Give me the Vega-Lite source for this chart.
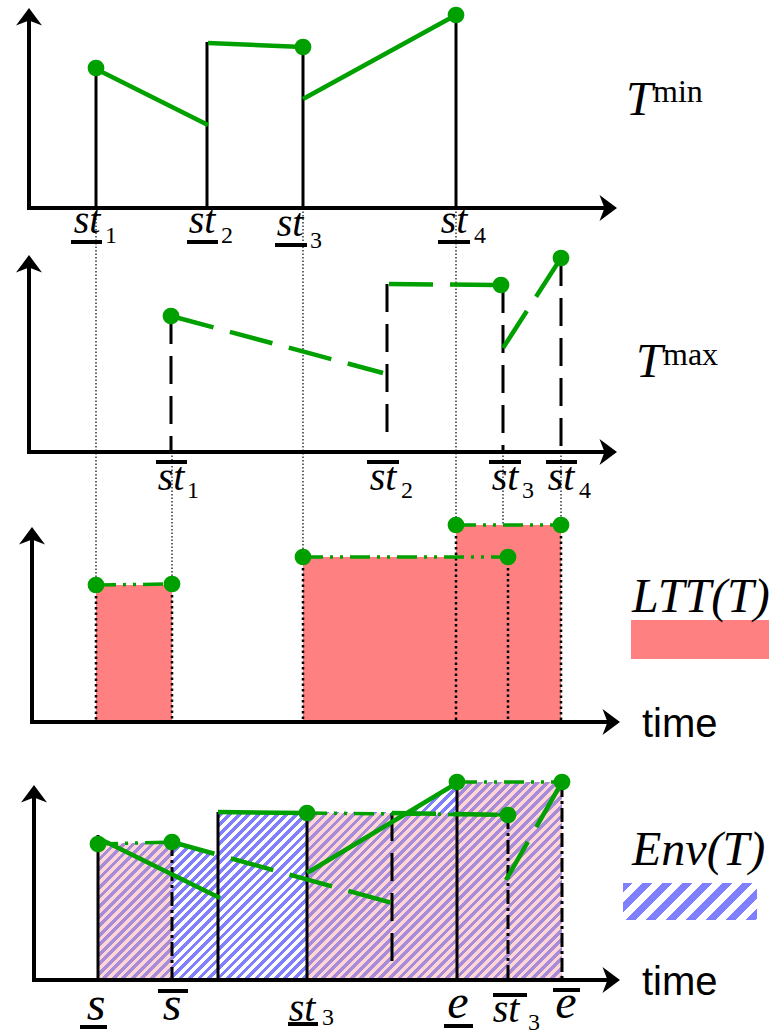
{
"$schema":"https://vega.github.io/schema/vega-lite/v6.json",
"width":776,"height":1036,
"autosize":{"type":"fit","contains":"padding"},
"padding":0,
"background":"#ffffff",
"config":{"view":{"stroke":null}},
"datasets":{
"ltt":[{"x":96,"x2":172,"y":585,"y2":722},{"x":303,"x2":508,"y":557,"y2":722},{"x":456,"x2":561,"y":525,"y2":722},{"x":631,"x2":769,"y":620,"y2":659}],
"envBlue":[{"x":98,"y":844},{"x":172,"y":842},{"x":218,"y":855},{"x":218.3,"y":812},{"x":409,"y":812},{"x":457,"y":782},{"x":562,"y":782}],
"envPink":[{"x":98,"y":844},{"x":172,"y":842},{"x":172.3,"y":980},{"x":306.7,"y":980},{"x":307,"y":813},{"x":456.7,"y":813},{"x":457,"y":782},{"x":562,"y":782}],
"legendHatch":[{"x":623,"x2":757,"y":883,"y2":920}],
"segs":[
{"k":"bs","x":96,"y":208,"x2":96,"y2":68},{"k":"bs","x":207,"y":208,"x2":207,"y2":42},{"k":"bs","x":303,"y":208,"x2":303,"y2":47},{"k":"bs","x":456,"y":208,"x2":456,"y2":15},
{"k":"bs","x":98,"y":980,"x2":98,"y2":835},{"k":"bs","x":218,"y":980,"x2":218,"y2":812},{"k":"bs","x":307,"y":980,"x2":307,"y2":813},{"k":"bs","x":457,"y":980,"x2":457,"y2":783},
{"k":"bd","x":171,"y":316,"x2":171,"y2":452},{"k":"bd","x":387,"y":284,"x2":387,"y2":440},{"k":"bd","x":503,"y":285,"x2":503,"y2":452},{"k":"bd","x":561,"y":258,"x2":561,"y2":452},{"k":"bd","x":392,"y":813,"x2":392,"y2":970},
{"k":"bdd","x":172,"y":842,"x2":172,"y2":980},{"k":"bdd","x":508,"y":815,"x2":508,"y2":980},{"k":"bdd","x":562,"y":783,"x2":562,"y2":980},
{"k":"thin","x":96,"y":208,"x2":96,"y2":585},{"k":"thin","x":303,"y":208,"x2":303,"y2":557},{"k":"thin","x":456,"y":208,"x2":456,"y2":525},{"k":"thin","x":172,"y":452,"x2":172,"y2":584},{"k":"thin","x":503,"y":452,"x2":503,"y2":525},{"k":"thin","x":561,"y":452,"x2":561,"y2":525},
{"k":"edge","x":96,"y":585,"x2":96,"y2":722},{"k":"edge","x":172,"y":584,"x2":172,"y2":722},{"k":"edge","x":303,"y":557,"x2":303,"y2":722},{"k":"edge","x":456,"y":525,"x2":456,"y2":722},{"k":"edge","x":508,"y":557,"x2":508,"y2":722},{"k":"edge","x":561,"y":525,"x2":561,"y2":722},
{"k":"ax","x":29,"y":210,"x2":29,"y2":20},{"k":"ax","x":27,"y":208,"x2":606,"y2":208},{"k":"ax","x":29,"y":454,"x2":29,"y2":267},{"k":"ax","x":27,"y":452,"x2":606,"y2":452},{"k":"ax","x":32,"y":724,"x2":32,"y2":539},{"k":"ax","x":30,"y":722,"x2":609,"y2":722},{"k":"ax","x":34,"y":982,"x2":34,"y2":797},{"k":"ax","x":32,"y":980,"x2":609,"y2":980},
{"k":"bar","x":71,"y":242,"x2":102,"y2":242},{"k":"bar","x":187,"y":242,"x2":218,"y2":242},{"k":"bar","x":275,"y":245,"x2":307,"y2":245},{"k":"bar","x":438,"y":242,"x2":470,"y2":242},
{"k":"bar","x":156,"y":462,"x2":187,"y2":462},{"k":"bar","x":367,"y":462,"x2":399,"y2":462},{"k":"bar","x":489,"y":462,"x2":521,"y2":462},{"k":"bar","x":546,"y":462,"x2":577,"y2":462},
{"k":"bar","x":80,"y":1027,"x2":107,"y2":1027},{"k":"bar","x":158,"y":991,"x2":188,"y2":991},{"k":"bar","x":288,"y":1024,"x2":318,"y2":1024},{"k":"bar","x":444,"y":1026,"x2":473,"y2":1026},{"k":"bar","x":493,"y":995,"x2":527,"y2":995},{"k":"bar","x":553,"y":990,"x2":580,"y2":990},
{"k":"gs","x":96,"y":69,"x2":208,"y2":125},{"k":"gs","x":208,"y":43,"x2":303,"y2":47},{"k":"gs","x":303,"y":99,"x2":456,"y2":15},{"k":"gs","x":98,"y":838,"x2":220,"y2":898},{"k":"gs","x":218,"y":812,"x2":307,"y2":813},{"k":"gs","x":307,"y":873,"x2":457,"y2":783},
{"k":"gd","x":171,"y":316,"x2":383,"y2":373},{"k":"gd","x":389,"y":284,"x2":501,"y2":285},{"k":"gd","x":503,"y":348,"x2":561,"y2":258},{"k":"gd","x":172,"y":842,"x2":392,"y2":903},{"k":"gd","x":392,"y":813,"x2":506,"y2":815},{"k":"gd","x":506,"y":880,"x2":562,"y2":782},
{"k":"gdd","x":96,"y":585,"x2":172,"y2":584},{"k":"gdd","x":303,"y":557,"x2":508,"y2":557},{"k":"gdd","x":456,"y":525,"x2":561,"y2":525},{"k":"gdd","x":98,"y":844,"x2":172,"y2":842},{"k":"gdd","x":307,"y":813,"x2":508,"y2":815},{"k":"gdd","x":457,"y":782,"x2":562,"y2":782}
],
"dots":[{"x":96,"y":68},{"x":303,"y":47},{"x":456,"y":15},{"x":171,"y":316},{"x":501,"y":285},{"x":561,"y":258},{"x":96,"y":585},{"x":172,"y":584},{"x":303,"y":557},{"x":508,"y":557},{"x":456,"y":525},{"x":561,"y":525},{"x":98,"y":844},{"x":172,"y":842},{"x":307,"y":813},{"x":457,"y":782},{"x":508,"y":815},{"x":562,"y":782}],
"arrowUp":[{"x":29,"y":18},{"x":29,"y":265},{"x":32,"y":537},{"x":34,"y":795}],
"arrowRight":[{"x":607,"y":208},{"x":607,"y":452},{"x":610,"y":722},{"x":610,"y":980}],
"labels":[
{"r":"st","t":"st","x":87,"y":233},{"r":"st","t":"st","x":202,"y":233},{"r":"st","t":"st","x":290,"y":236},{"r":"st","t":"st","x":454,"y":233},
{"r":"st","t":"st","x":171,"y":490},{"r":"st","t":"st","x":383,"y":490},{"r":"st","t":"st","x":505,"y":490},{"r":"st","t":"st","x":561,"y":490},
{"r":"st","t":"st","x":302,"y":1021},{"r":"st","t":"st","x":506,"y":1022},
{"r":"sub","t":"1","x":111,"y":243},{"r":"sub","t":"2","x":227,"y":243},{"r":"sub","t":"3","x":316,"y":248},{"r":"sub","t":"4","x":480,"y":243},
{"r":"sub","t":"1","x":193,"y":498},{"r":"sub","t":"2","x":407,"y":498},{"r":"sub","t":"3","x":528,"y":498},{"r":"sub","t":"4","x":585,"y":498},
{"r":"sub","t":"3","x":328,"y":1025},{"r":"sub","t":"3","x":534,"y":1030},
{"r":"var","t":"s","x":96,"y":1020},{"r":"var","t":"s","x":172,"y":1020},{"r":"var","t":"e","x":458,"y":1018},{"r":"var","t":"e","x":566,"y":1018},
{"r":"title","t":"T","x":626,"y":115},{"r":"title","t":"T","x":636,"y":377},{"r":"title","t":"LTT(T)","x":632,"y":612},{"r":"title","t":"Env(T)","x":632,"y":865},
{"r":"sup","t":"min","x":653,"y":102},{"r":"sup","t":"max","x":663,"y":365},
{"r":"time","t":"time","x":642,"y":737},{"r":"time","t":"time","x":642,"y":995}
]
},
"encoding":{
"x":{"field":"x","type":"quantitative","scale":{"domain":[0,776],"nice":false,"zero":false},"axis":null},
"y":{"field":"y","type":"quantitative","scale":{"domain":[0,1036],"nice":false,"zero":false,"reverse":true},"axis":null}
},
"layer":[
{"data":{"name":"ltt"},"mark":{"type":"rect","fill":"#ff8080","opacity":1},"encoding":{"x2":{"field":"x2"},"y2":{"field":"y2"}}},
{"data":{"name":"envBlue"},"mark":{"type":"area","orient":"vertical","interpolate":"linear","opacity":1,"fill":{"gradient":"linear","x1":0,"y1":0,"x2":1.23976,"y2":0.52904,"stops":[
{"offset":0.007,"color":"#8080ff"},{"offset":0.007,"color":"#fff"},{"offset":0.014,"color":"#fff"},{"offset":0.014,"color":"#8080ff"},
{"offset":0.021,"color":"#8080ff"},{"offset":0.021,"color":"#fff"},{"offset":0.028,"color":"#fff"},{"offset":0.028,"color":"#8080ff"},
{"offset":0.035,"color":"#8080ff"},{"offset":0.035,"color":"#fff"},{"offset":0.042,"color":"#fff"},{"offset":0.042,"color":"#8080ff"},
{"offset":0.049,"color":"#8080ff"},{"offset":0.049,"color":"#fff"},{"offset":0.056,"color":"#fff"},{"offset":0.056,"color":"#8080ff"},
{"offset":0.063,"color":"#8080ff"},{"offset":0.063,"color":"#fff"},{"offset":0.07,"color":"#fff"},{"offset":0.07,"color":"#8080ff"},
{"offset":0.077,"color":"#8080ff"},{"offset":0.077,"color":"#fff"},{"offset":0.084,"color":"#fff"},{"offset":0.084,"color":"#8080ff"},
{"offset":0.091,"color":"#8080ff"},{"offset":0.091,"color":"#fff"},{"offset":0.098,"color":"#fff"},{"offset":0.098,"color":"#8080ff"},
{"offset":0.105,"color":"#8080ff"},{"offset":0.105,"color":"#fff"},{"offset":0.112,"color":"#fff"},{"offset":0.112,"color":"#8080ff"},
{"offset":0.119,"color":"#8080ff"},{"offset":0.119,"color":"#fff"},{"offset":0.126,"color":"#fff"},{"offset":0.126,"color":"#8080ff"},
{"offset":0.133,"color":"#8080ff"},{"offset":0.133,"color":"#fff"},{"offset":0.14,"color":"#fff"},{"offset":0.14,"color":"#8080ff"},
{"offset":0.147,"color":"#8080ff"},{"offset":0.147,"color":"#fff"},{"offset":0.154,"color":"#fff"},{"offset":0.154,"color":"#8080ff"},
{"offset":0.161,"color":"#8080ff"},{"offset":0.161,"color":"#fff"},{"offset":0.168,"color":"#fff"},{"offset":0.168,"color":"#8080ff"},
{"offset":0.175,"color":"#8080ff"},{"offset":0.175,"color":"#fff"},{"offset":0.182,"color":"#fff"},{"offset":0.182,"color":"#8080ff"},
{"offset":0.189,"color":"#8080ff"},{"offset":0.189,"color":"#fff"},{"offset":0.196,"color":"#fff"},{"offset":0.196,"color":"#8080ff"},
{"offset":0.203,"color":"#8080ff"},{"offset":0.203,"color":"#fff"},{"offset":0.21,"color":"#fff"},{"offset":0.21,"color":"#8080ff"},
{"offset":0.217,"color":"#8080ff"},{"offset":0.217,"color":"#fff"},{"offset":0.224,"color":"#fff"},{"offset":0.224,"color":"#8080ff"},
{"offset":0.231,"color":"#8080ff"},{"offset":0.231,"color":"#fff"},{"offset":0.238,"color":"#fff"},{"offset":0.238,"color":"#8080ff"},
{"offset":0.245,"color":"#8080ff"},{"offset":0.245,"color":"#fff"},{"offset":0.252,"color":"#fff"},{"offset":0.252,"color":"#8080ff"},
{"offset":0.259,"color":"#8080ff"},{"offset":0.259,"color":"#fff"},{"offset":0.266,"color":"#fff"},{"offset":0.266,"color":"#8080ff"},
{"offset":0.273,"color":"#8080ff"},{"offset":0.273,"color":"#fff"},{"offset":0.28,"color":"#fff"},{"offset":0.28,"color":"#8080ff"},
{"offset":0.287,"color":"#8080ff"},{"offset":0.287,"color":"#fff"},{"offset":0.294,"color":"#fff"},{"offset":0.294,"color":"#8080ff"},
{"offset":0.301,"color":"#8080ff"},{"offset":0.301,"color":"#fff"},{"offset":0.308,"color":"#fff"},{"offset":0.308,"color":"#8080ff"},
{"offset":0.315,"color":"#8080ff"},{"offset":0.315,"color":"#fff"},{"offset":0.322,"color":"#fff"},{"offset":0.322,"color":"#8080ff"},
{"offset":0.329,"color":"#8080ff"},{"offset":0.329,"color":"#fff"},{"offset":0.336,"color":"#fff"},{"offset":0.336,"color":"#8080ff"},
{"offset":0.343,"color":"#8080ff"},{"offset":0.343,"color":"#fff"},{"offset":0.35,"color":"#fff"},{"offset":0.35,"color":"#8080ff"},
{"offset":0.357,"color":"#8080ff"},{"offset":0.357,"color":"#fff"},{"offset":0.364,"color":"#fff"},{"offset":0.364,"color":"#8080ff"},
{"offset":0.371,"color":"#8080ff"},{"offset":0.371,"color":"#fff"},{"offset":0.378,"color":"#fff"},{"offset":0.378,"color":"#8080ff"},
{"offset":0.385,"color":"#8080ff"},{"offset":0.385,"color":"#fff"},{"offset":0.392,"color":"#fff"},{"offset":0.392,"color":"#8080ff"},
{"offset":0.399,"color":"#8080ff"},{"offset":0.399,"color":"#fff"},{"offset":0.406,"color":"#fff"},{"offset":0.406,"color":"#8080ff"},
{"offset":0.413,"color":"#8080ff"},{"offset":0.413,"color":"#fff"},{"offset":0.42,"color":"#fff"},{"offset":0.42,"color":"#8080ff"},
{"offset":0.427,"color":"#8080ff"},{"offset":0.427,"color":"#fff"},{"offset":0.434,"color":"#fff"},{"offset":0.434,"color":"#8080ff"},
{"offset":0.441,"color":"#8080ff"},{"offset":0.441,"color":"#fff"},{"offset":0.448,"color":"#fff"},{"offset":0.448,"color":"#8080ff"},
{"offset":0.455,"color":"#8080ff"},{"offset":0.455,"color":"#fff"},{"offset":0.462,"color":"#fff"},{"offset":0.462,"color":"#8080ff"},
{"offset":0.469,"color":"#8080ff"},{"offset":0.469,"color":"#fff"},{"offset":0.476,"color":"#fff"},{"offset":0.476,"color":"#8080ff"},
{"offset":0.483,"color":"#8080ff"},{"offset":0.483,"color":"#fff"},{"offset":0.49,"color":"#fff"},{"offset":0.49,"color":"#8080ff"},
{"offset":0.497,"color":"#8080ff"},{"offset":0.497,"color":"#fff"},{"offset":0.504,"color":"#fff"},{"offset":0.504,"color":"#8080ff"},
{"offset":0.511,"color":"#8080ff"},{"offset":0.511,"color":"#fff"},{"offset":0.518,"color":"#fff"},{"offset":0.518,"color":"#8080ff"},
{"offset":0.525,"color":"#8080ff"},{"offset":0.525,"color":"#fff"},{"offset":0.532,"color":"#fff"},{"offset":0.532,"color":"#8080ff"},
{"offset":0.539,"color":"#8080ff"},{"offset":0.539,"color":"#fff"},{"offset":0.546,"color":"#fff"},{"offset":0.546,"color":"#8080ff"},
{"offset":0.553,"color":"#8080ff"},{"offset":0.553,"color":"#fff"},{"offset":0.56,"color":"#fff"},{"offset":0.56,"color":"#8080ff"},
{"offset":0.567,"color":"#8080ff"},{"offset":0.567,"color":"#fff"},{"offset":0.574,"color":"#fff"},{"offset":0.574,"color":"#8080ff"},
{"offset":0.581,"color":"#8080ff"},{"offset":0.581,"color":"#fff"},{"offset":0.588,"color":"#fff"},{"offset":0.588,"color":"#8080ff"},
{"offset":0.595,"color":"#8080ff"},{"offset":0.595,"color":"#fff"},{"offset":0.602,"color":"#fff"},{"offset":0.602,"color":"#8080ff"},
{"offset":0.609,"color":"#8080ff"},{"offset":0.609,"color":"#fff"},{"offset":0.616,"color":"#fff"},{"offset":0.616,"color":"#8080ff"},
{"offset":0.623,"color":"#8080ff"},{"offset":0.623,"color":"#fff"},{"offset":0.63,"color":"#fff"},{"offset":0.63,"color":"#8080ff"},
{"offset":0.637,"color":"#8080ff"},{"offset":0.637,"color":"#fff"},{"offset":0.644,"color":"#fff"},{"offset":0.644,"color":"#8080ff"},
{"offset":0.651,"color":"#8080ff"},{"offset":0.651,"color":"#fff"},{"offset":0.658,"color":"#fff"},{"offset":0.658,"color":"#8080ff"},
{"offset":0.665,"color":"#8080ff"},{"offset":0.665,"color":"#fff"},{"offset":0.672,"color":"#fff"},{"offset":0.672,"color":"#8080ff"},
{"offset":0.679,"color":"#8080ff"},{"offset":0.679,"color":"#fff"},{"offset":0.686,"color":"#fff"},{"offset":0.686,"color":"#8080ff"},
{"offset":0.693,"color":"#8080ff"},{"offset":0.693,"color":"#fff"},{"offset":0.7,"color":"#fff"},{"offset":0.7,"color":"#8080ff"},
{"offset":0.707,"color":"#8080ff"},{"offset":0.707,"color":"#fff"},{"offset":0.714,"color":"#fff"},{"offset":0.714,"color":"#8080ff"},
{"offset":0.721,"color":"#8080ff"},{"offset":0.721,"color":"#fff"},{"offset":0.728,"color":"#fff"},{"offset":0.728,"color":"#8080ff"},
{"offset":0.735,"color":"#8080ff"},{"offset":0.735,"color":"#fff"},{"offset":0.742,"color":"#fff"},{"offset":0.742,"color":"#8080ff"},
{"offset":0.749,"color":"#8080ff"},{"offset":0.749,"color":"#fff"},{"offset":0.756,"color":"#fff"},{"offset":0.756,"color":"#8080ff"},
{"offset":0.763,"color":"#8080ff"},{"offset":0.763,"color":"#fff"},{"offset":0.77,"color":"#fff"},{"offset":0.77,"color":"#8080ff"},
{"offset":0.777,"color":"#8080ff"},{"offset":0.777,"color":"#fff"},{"offset":0.784,"color":"#fff"},{"offset":0.784,"color":"#8080ff"},
{"offset":0.791,"color":"#8080ff"},{"offset":0.791,"color":"#fff"},{"offset":0.798,"color":"#fff"},{"offset":0.798,"color":"#8080ff"},
{"offset":0.805,"color":"#8080ff"},{"offset":0.805,"color":"#fff"},{"offset":0.812,"color":"#fff"},{"offset":0.812,"color":"#8080ff"},
{"offset":0.819,"color":"#8080ff"},{"offset":0.819,"color":"#fff"},{"offset":0.826,"color":"#fff"},{"offset":0.826,"color":"#8080ff"},
{"offset":0.833,"color":"#8080ff"},{"offset":0.833,"color":"#fff"},{"offset":0.84,"color":"#fff"},{"offset":0.84,"color":"#8080ff"},
{"offset":0.847,"color":"#8080ff"},{"offset":0.847,"color":"#fff"},{"offset":0.854,"color":"#fff"},{"offset":0.854,"color":"#8080ff"},
{"offset":0.861,"color":"#8080ff"},{"offset":0.861,"color":"#fff"},{"offset":0.868,"color":"#fff"},{"offset":0.868,"color":"#8080ff"},
{"offset":0.875,"color":"#8080ff"},{"offset":0.875,"color":"#fff"},{"offset":0.882,"color":"#fff"},{"offset":0.882,"color":"#8080ff"},
{"offset":0.889,"color":"#8080ff"},{"offset":0.889,"color":"#fff"},{"offset":0.896,"color":"#fff"},{"offset":0.896,"color":"#8080ff"},
{"offset":0.903,"color":"#8080ff"},{"offset":0.903,"color":"#fff"},{"offset":0.91,"color":"#fff"},{"offset":0.91,"color":"#8080ff"},
{"offset":0.917,"color":"#8080ff"},{"offset":0.917,"color":"#fff"},{"offset":0.924,"color":"#fff"},{"offset":0.924,"color":"#8080ff"},
{"offset":0.931,"color":"#8080ff"},{"offset":0.931,"color":"#fff"},{"offset":0.938,"color":"#fff"},{"offset":0.938,"color":"#8080ff"},
{"offset":0.945,"color":"#8080ff"},{"offset":0.945,"color":"#fff"},{"offset":0.952,"color":"#fff"},{"offset":0.952,"color":"#8080ff"},
{"offset":0.959,"color":"#8080ff"},{"offset":0.959,"color":"#fff"},{"offset":0.966,"color":"#fff"},{"offset":0.966,"color":"#8080ff"},
{"offset":0.973,"color":"#8080ff"},{"offset":0.973,"color":"#fff"}
]}},"encoding":{"y":{"field":"y","type":"quantitative","stack":null},"y2":{"datum":980}}},
{"data":{"name":"envPink"},"mark":{"type":"area","orient":"vertical","interpolate":"linear","opacity":1,"fill":{"gradient":"linear","x1":0,"y1":0,"x2":1.23976,"y2":0.52904,"stops":[
{"offset":0.007,"color":"#a78cd9"},{"offset":0.007,"color":"#ffd5d5"},{"offset":0.014,"color":"#ffd5d5"},{"offset":0.014,"color":"#a78cd9"},
{"offset":0.021,"color":"#a78cd9"},{"offset":0.021,"color":"#ffd5d5"},{"offset":0.028,"color":"#ffd5d5"},{"offset":0.028,"color":"#a78cd9"},
{"offset":0.035,"color":"#a78cd9"},{"offset":0.035,"color":"#ffd5d5"},{"offset":0.042,"color":"#ffd5d5"},{"offset":0.042,"color":"#a78cd9"},
{"offset":0.049,"color":"#a78cd9"},{"offset":0.049,"color":"#ffd5d5"},{"offset":0.056,"color":"#ffd5d5"},{"offset":0.056,"color":"#a78cd9"},
{"offset":0.063,"color":"#a78cd9"},{"offset":0.063,"color":"#ffd5d5"},{"offset":0.07,"color":"#ffd5d5"},{"offset":0.07,"color":"#a78cd9"},
{"offset":0.077,"color":"#a78cd9"},{"offset":0.077,"color":"#ffd5d5"},{"offset":0.084,"color":"#ffd5d5"},{"offset":0.084,"color":"#a78cd9"},
{"offset":0.091,"color":"#a78cd9"},{"offset":0.091,"color":"#ffd5d5"},{"offset":0.098,"color":"#ffd5d5"},{"offset":0.098,"color":"#a78cd9"},
{"offset":0.105,"color":"#a78cd9"},{"offset":0.105,"color":"#ffd5d5"},{"offset":0.112,"color":"#ffd5d5"},{"offset":0.112,"color":"#a78cd9"},
{"offset":0.119,"color":"#a78cd9"},{"offset":0.119,"color":"#ffd5d5"},{"offset":0.126,"color":"#ffd5d5"},{"offset":0.126,"color":"#a78cd9"},
{"offset":0.133,"color":"#a78cd9"},{"offset":0.133,"color":"#ffd5d5"},{"offset":0.14,"color":"#ffd5d5"},{"offset":0.14,"color":"#a78cd9"},
{"offset":0.147,"color":"#a78cd9"},{"offset":0.147,"color":"#ffd5d5"},{"offset":0.154,"color":"#ffd5d5"},{"offset":0.154,"color":"#a78cd9"},
{"offset":0.161,"color":"#a78cd9"},{"offset":0.161,"color":"#ffd5d5"},{"offset":0.168,"color":"#ffd5d5"},{"offset":0.168,"color":"#a78cd9"},
{"offset":0.175,"color":"#a78cd9"},{"offset":0.175,"color":"#ffd5d5"},{"offset":0.182,"color":"#ffd5d5"},{"offset":0.182,"color":"#a78cd9"},
{"offset":0.189,"color":"#a78cd9"},{"offset":0.189,"color":"#ffd5d5"},{"offset":0.196,"color":"#ffd5d5"},{"offset":0.196,"color":"#a78cd9"},
{"offset":0.203,"color":"#a78cd9"},{"offset":0.203,"color":"#ffd5d5"},{"offset":0.21,"color":"#ffd5d5"},{"offset":0.21,"color":"#a78cd9"},
{"offset":0.217,"color":"#a78cd9"},{"offset":0.217,"color":"#ffd5d5"},{"offset":0.224,"color":"#ffd5d5"},{"offset":0.224,"color":"#a78cd9"},
{"offset":0.231,"color":"#a78cd9"},{"offset":0.231,"color":"#ffd5d5"},{"offset":0.238,"color":"#ffd5d5"},{"offset":0.238,"color":"#a78cd9"},
{"offset":0.245,"color":"#a78cd9"},{"offset":0.245,"color":"#ffd5d5"},{"offset":0.252,"color":"#ffd5d5"},{"offset":0.252,"color":"#a78cd9"},
{"offset":0.259,"color":"#a78cd9"},{"offset":0.259,"color":"#ffd5d5"},{"offset":0.266,"color":"#ffd5d5"},{"offset":0.266,"color":"#a78cd9"},
{"offset":0.273,"color":"#a78cd9"},{"offset":0.273,"color":"#ffd5d5"},{"offset":0.28,"color":"#ffd5d5"},{"offset":0.28,"color":"#a78cd9"},
{"offset":0.287,"color":"#a78cd9"},{"offset":0.287,"color":"#ffd5d5"},{"offset":0.294,"color":"#ffd5d5"},{"offset":0.294,"color":"#a78cd9"},
{"offset":0.301,"color":"#a78cd9"},{"offset":0.301,"color":"#ffd5d5"},{"offset":0.308,"color":"#ffd5d5"},{"offset":0.308,"color":"#a78cd9"},
{"offset":0.315,"color":"#a78cd9"},{"offset":0.315,"color":"#ffd5d5"},{"offset":0.322,"color":"#ffd5d5"},{"offset":0.322,"color":"#a78cd9"},
{"offset":0.329,"color":"#a78cd9"},{"offset":0.329,"color":"#ffd5d5"},{"offset":0.336,"color":"#ffd5d5"},{"offset":0.336,"color":"#a78cd9"},
{"offset":0.343,"color":"#a78cd9"},{"offset":0.343,"color":"#ffd5d5"},{"offset":0.35,"color":"#ffd5d5"},{"offset":0.35,"color":"#a78cd9"},
{"offset":0.357,"color":"#a78cd9"},{"offset":0.357,"color":"#ffd5d5"},{"offset":0.364,"color":"#ffd5d5"},{"offset":0.364,"color":"#a78cd9"},
{"offset":0.371,"color":"#a78cd9"},{"offset":0.371,"color":"#ffd5d5"},{"offset":0.378,"color":"#ffd5d5"},{"offset":0.378,"color":"#a78cd9"},
{"offset":0.385,"color":"#a78cd9"},{"offset":0.385,"color":"#ffd5d5"},{"offset":0.392,"color":"#ffd5d5"},{"offset":0.392,"color":"#a78cd9"},
{"offset":0.399,"color":"#a78cd9"},{"offset":0.399,"color":"#ffd5d5"},{"offset":0.406,"color":"#ffd5d5"},{"offset":0.406,"color":"#a78cd9"},
{"offset":0.413,"color":"#a78cd9"},{"offset":0.413,"color":"#ffd5d5"},{"offset":0.42,"color":"#ffd5d5"},{"offset":0.42,"color":"#a78cd9"},
{"offset":0.427,"color":"#a78cd9"},{"offset":0.427,"color":"#ffd5d5"},{"offset":0.434,"color":"#ffd5d5"},{"offset":0.434,"color":"#a78cd9"},
{"offset":0.441,"color":"#a78cd9"},{"offset":0.441,"color":"#ffd5d5"},{"offset":0.448,"color":"#ffd5d5"},{"offset":0.448,"color":"#a78cd9"},
{"offset":0.455,"color":"#a78cd9"},{"offset":0.455,"color":"#ffd5d5"},{"offset":0.462,"color":"#ffd5d5"},{"offset":0.462,"color":"#a78cd9"},
{"offset":0.469,"color":"#a78cd9"},{"offset":0.469,"color":"#ffd5d5"},{"offset":0.476,"color":"#ffd5d5"},{"offset":0.476,"color":"#a78cd9"},
{"offset":0.483,"color":"#a78cd9"},{"offset":0.483,"color":"#ffd5d5"},{"offset":0.49,"color":"#ffd5d5"},{"offset":0.49,"color":"#a78cd9"},
{"offset":0.497,"color":"#a78cd9"},{"offset":0.497,"color":"#ffd5d5"},{"offset":0.504,"color":"#ffd5d5"},{"offset":0.504,"color":"#a78cd9"},
{"offset":0.511,"color":"#a78cd9"},{"offset":0.511,"color":"#ffd5d5"},{"offset":0.518,"color":"#ffd5d5"},{"offset":0.518,"color":"#a78cd9"},
{"offset":0.525,"color":"#a78cd9"},{"offset":0.525,"color":"#ffd5d5"},{"offset":0.532,"color":"#ffd5d5"},{"offset":0.532,"color":"#a78cd9"},
{"offset":0.539,"color":"#a78cd9"},{"offset":0.539,"color":"#ffd5d5"},{"offset":0.546,"color":"#ffd5d5"},{"offset":0.546,"color":"#a78cd9"},
{"offset":0.553,"color":"#a78cd9"},{"offset":0.553,"color":"#ffd5d5"},{"offset":0.56,"color":"#ffd5d5"},{"offset":0.56,"color":"#a78cd9"},
{"offset":0.567,"color":"#a78cd9"},{"offset":0.567,"color":"#ffd5d5"},{"offset":0.574,"color":"#ffd5d5"},{"offset":0.574,"color":"#a78cd9"},
{"offset":0.581,"color":"#a78cd9"},{"offset":0.581,"color":"#ffd5d5"},{"offset":0.588,"color":"#ffd5d5"},{"offset":0.588,"color":"#a78cd9"},
{"offset":0.595,"color":"#a78cd9"},{"offset":0.595,"color":"#ffd5d5"},{"offset":0.602,"color":"#ffd5d5"},{"offset":0.602,"color":"#a78cd9"},
{"offset":0.609,"color":"#a78cd9"},{"offset":0.609,"color":"#ffd5d5"},{"offset":0.616,"color":"#ffd5d5"},{"offset":0.616,"color":"#a78cd9"},
{"offset":0.623,"color":"#a78cd9"},{"offset":0.623,"color":"#ffd5d5"},{"offset":0.63,"color":"#ffd5d5"},{"offset":0.63,"color":"#a78cd9"},
{"offset":0.637,"color":"#a78cd9"},{"offset":0.637,"color":"#ffd5d5"},{"offset":0.644,"color":"#ffd5d5"},{"offset":0.644,"color":"#a78cd9"},
{"offset":0.651,"color":"#a78cd9"},{"offset":0.651,"color":"#ffd5d5"},{"offset":0.658,"color":"#ffd5d5"},{"offset":0.658,"color":"#a78cd9"},
{"offset":0.665,"color":"#a78cd9"},{"offset":0.665,"color":"#ffd5d5"},{"offset":0.672,"color":"#ffd5d5"},{"offset":0.672,"color":"#a78cd9"},
{"offset":0.679,"color":"#a78cd9"},{"offset":0.679,"color":"#ffd5d5"},{"offset":0.686,"color":"#ffd5d5"},{"offset":0.686,"color":"#a78cd9"},
{"offset":0.693,"color":"#a78cd9"},{"offset":0.693,"color":"#ffd5d5"},{"offset":0.7,"color":"#ffd5d5"},{"offset":0.7,"color":"#a78cd9"},
{"offset":0.707,"color":"#a78cd9"},{"offset":0.707,"color":"#ffd5d5"},{"offset":0.714,"color":"#ffd5d5"},{"offset":0.714,"color":"#a78cd9"},
{"offset":0.721,"color":"#a78cd9"},{"offset":0.721,"color":"#ffd5d5"},{"offset":0.728,"color":"#ffd5d5"},{"offset":0.728,"color":"#a78cd9"},
{"offset":0.735,"color":"#a78cd9"},{"offset":0.735,"color":"#ffd5d5"},{"offset":0.742,"color":"#ffd5d5"},{"offset":0.742,"color":"#a78cd9"},
{"offset":0.749,"color":"#a78cd9"},{"offset":0.749,"color":"#ffd5d5"},{"offset":0.756,"color":"#ffd5d5"},{"offset":0.756,"color":"#a78cd9"},
{"offset":0.763,"color":"#a78cd9"},{"offset":0.763,"color":"#ffd5d5"},{"offset":0.77,"color":"#ffd5d5"},{"offset":0.77,"color":"#a78cd9"},
{"offset":0.777,"color":"#a78cd9"},{"offset":0.777,"color":"#ffd5d5"},{"offset":0.784,"color":"#ffd5d5"},{"offset":0.784,"color":"#a78cd9"},
{"offset":0.791,"color":"#a78cd9"},{"offset":0.791,"color":"#ffd5d5"},{"offset":0.798,"color":"#ffd5d5"},{"offset":0.798,"color":"#a78cd9"},
{"offset":0.805,"color":"#a78cd9"},{"offset":0.805,"color":"#ffd5d5"},{"offset":0.812,"color":"#ffd5d5"},{"offset":0.812,"color":"#a78cd9"},
{"offset":0.819,"color":"#a78cd9"},{"offset":0.819,"color":"#ffd5d5"},{"offset":0.826,"color":"#ffd5d5"},{"offset":0.826,"color":"#a78cd9"},
{"offset":0.833,"color":"#a78cd9"},{"offset":0.833,"color":"#ffd5d5"},{"offset":0.84,"color":"#ffd5d5"},{"offset":0.84,"color":"#a78cd9"},
{"offset":0.847,"color":"#a78cd9"},{"offset":0.847,"color":"#ffd5d5"},{"offset":0.854,"color":"#ffd5d5"},{"offset":0.854,"color":"#a78cd9"},
{"offset":0.861,"color":"#a78cd9"},{"offset":0.861,"color":"#ffd5d5"},{"offset":0.868,"color":"#ffd5d5"},{"offset":0.868,"color":"#a78cd9"},
{"offset":0.875,"color":"#a78cd9"},{"offset":0.875,"color":"#ffd5d5"},{"offset":0.882,"color":"#ffd5d5"},{"offset":0.882,"color":"#a78cd9"},
{"offset":0.889,"color":"#a78cd9"},{"offset":0.889,"color":"#ffd5d5"},{"offset":0.896,"color":"#ffd5d5"},{"offset":0.896,"color":"#a78cd9"},
{"offset":0.903,"color":"#a78cd9"},{"offset":0.903,"color":"#ffd5d5"},{"offset":0.91,"color":"#ffd5d5"},{"offset":0.91,"color":"#a78cd9"},
{"offset":0.917,"color":"#a78cd9"},{"offset":0.917,"color":"#ffd5d5"},{"offset":0.924,"color":"#ffd5d5"},{"offset":0.924,"color":"#a78cd9"},
{"offset":0.931,"color":"#a78cd9"},{"offset":0.931,"color":"#ffd5d5"},{"offset":0.938,"color":"#ffd5d5"},{"offset":0.938,"color":"#a78cd9"},
{"offset":0.945,"color":"#a78cd9"},{"offset":0.945,"color":"#ffd5d5"},{"offset":0.952,"color":"#ffd5d5"},{"offset":0.952,"color":"#a78cd9"},
{"offset":0.959,"color":"#a78cd9"},{"offset":0.959,"color":"#ffd5d5"},{"offset":0.966,"color":"#ffd5d5"},{"offset":0.966,"color":"#a78cd9"},
{"offset":0.973,"color":"#a78cd9"},{"offset":0.973,"color":"#ffd5d5"}
]}},"encoding":{"y":{"field":"y","type":"quantitative","stack":null},"y2":{"datum":980}}},
{"data":{"name":"legendHatch"},"mark":{"type":"rect","opacity":1,"fill":{"gradient":"linear","x1":0,"y1":0,"x2":9.9018,"y2":2.7341,"stops":[
{"offset":0.007,"color":"#8080ff"},{"offset":0.007,"color":"#fff"},{"offset":0.014,"color":"#fff"},{"offset":0.014,"color":"#8080ff"},
{"offset":0.021,"color":"#8080ff"},{"offset":0.021,"color":"#fff"},{"offset":0.028,"color":"#fff"},{"offset":0.028,"color":"#8080ff"},
{"offset":0.035,"color":"#8080ff"},{"offset":0.035,"color":"#fff"},{"offset":0.042,"color":"#fff"},{"offset":0.042,"color":"#8080ff"},
{"offset":0.049,"color":"#8080ff"},{"offset":0.049,"color":"#fff"},{"offset":0.056,"color":"#fff"},{"offset":0.056,"color":"#8080ff"},
{"offset":0.063,"color":"#8080ff"},{"offset":0.063,"color":"#fff"},{"offset":0.07,"color":"#fff"},{"offset":0.07,"color":"#8080ff"},
{"offset":0.077,"color":"#8080ff"},{"offset":0.077,"color":"#fff"},{"offset":0.084,"color":"#fff"},{"offset":0.084,"color":"#8080ff"},
{"offset":0.091,"color":"#8080ff"},{"offset":0.091,"color":"#fff"},{"offset":0.098,"color":"#fff"},{"offset":0.098,"color":"#8080ff"},
{"offset":0.105,"color":"#8080ff"},{"offset":0.105,"color":"#fff"},{"offset":0.112,"color":"#fff"},{"offset":0.112,"color":"#8080ff"},
{"offset":0.119,"color":"#8080ff"},{"offset":0.119,"color":"#fff"},{"offset":0.126,"color":"#fff"},{"offset":0.126,"color":"#8080ff"}
]}},"encoding":{"x2":{"field":"x2"},"y2":{"field":"y2"}}},
{"data":{"name":"segs"},"transform":[{"filter":"datum.k==='bs'"}],"mark":{"type":"rule","color":"#000","strokeWidth":3},"encoding":{"x2":{"field":"x2"},"y2":{"field":"y2"}}},
{"data":{"name":"segs"},"transform":[{"filter":"datum.k==='bd'"}],"mark":{"type":"rule","color":"#000","strokeWidth":3,"strokeDash":[28,12]},"encoding":{"x2":{"field":"x2"},"y2":{"field":"y2"}}},
{"data":{"name":"segs"},"transform":[{"filter":"datum.k==='bdd'"}],"mark":{"type":"rule","color":"#000","strokeWidth":3,"strokeDash":[14,4,3,4]},"encoding":{"x2":{"field":"x2"},"y2":{"field":"y2"}}},
{"data":{"name":"segs"},"transform":[{"filter":"datum.k==='thin'"}],"mark":{"type":"rule","color":"#000","strokeWidth":1.2,"strokeDash":[1.5,2]},"encoding":{"x2":{"field":"x2"},"y2":{"field":"y2"}}},
{"data":{"name":"segs"},"transform":[{"filter":"datum.k==='edge'"}],"mark":{"type":"rule","color":"#000","strokeWidth":2.5,"strokeDash":[2.5,3]},"encoding":{"x2":{"field":"x2"},"y2":{"field":"y2"}}},
{"data":{"name":"segs"},"transform":[{"filter":"datum.k==='ax' || datum.k==='bar'"}],"mark":{"type":"rule","color":"#000","strokeWidth":4},"encoding":{"x2":{"field":"x2"},"y2":{"field":"y2"}}},
{"data":{"name":"segs"},"transform":[{"filter":"datum.k==='gs'"}],"mark":{"type":"rule","color":"#00a000","strokeWidth":4.5},"encoding":{"x2":{"field":"x2"},"y2":{"field":"y2"}}},
{"data":{"name":"segs"},"transform":[{"filter":"datum.k==='gd'"}],"mark":{"type":"rule","color":"#00a000","strokeWidth":4.5,"strokeDash":[44,17]},"encoding":{"x2":{"field":"x2"},"y2":{"field":"y2"}}},
{"data":{"name":"segs"},"transform":[{"filter":"datum.k==='gdd'"}],"mark":{"type":"rule","color":"#00a000","strokeWidth":3.5,"strokeDash":[20,7,3,7,3,7]},"encoding":{"x2":{"field":"x2"},"y2":{"field":"y2"}}},
{"data":{"name":"arrowUp"},"mark":{"type":"point","shape":"M0,-1L1.3,0.75L0,0.25L-1.3,0.75Z","filled":true,"size":400,"color":"#000","opacity":1,"strokeWidth":0}},
{"data":{"name":"arrowRight"},"mark":{"type":"point","shape":"M1,0L-0.75,1.3L-0.25,0L-0.75,-1.3Z","filled":true,"size":400,"color":"#000","opacity":1,"strokeWidth":0}},
{"data":{"name":"dots"},"mark":{"type":"point","shape":"circle","filled":true,"size":280,"color":"#00a000","opacity":1,"strokeWidth":0}},
{"data":{"name":"labels"},"transform":[{"filter":"datum.r==='st'"}],"mark":{"type":"text","font":"Liberation Serif","fontStyle":"italic","fontSize":40,"align":"center","baseline":"alphabetic","color":"#000"},"encoding":{"text":{"field":"t"}}},
{"data":{"name":"labels"},"transform":[{"filter":"datum.r==='sub'"}],"mark":{"type":"text","font":"Liberation Serif","fontSize":24,"align":"center","baseline":"alphabetic","color":"#000"},"encoding":{"text":{"field":"t"}}},
{"data":{"name":"labels"},"transform":[{"filter":"datum.r==='var'"}],"mark":{"type":"text","font":"Liberation Serif","fontStyle":"italic","fontSize":48,"align":"center","baseline":"alphabetic","color":"#000"},"encoding":{"text":{"field":"t"}}},
{"data":{"name":"labels"},"transform":[{"filter":"datum.r==='title'"}],"mark":{"type":"text","font":"Liberation Serif","fontStyle":"italic","fontSize":48,"align":"left","baseline":"alphabetic","color":"#000"},"encoding":{"text":{"field":"t"}}},
{"data":{"name":"labels"},"transform":[{"filter":"datum.r==='sup'"}],"mark":{"type":"text","font":"Liberation Serif","fontSize":32,"align":"left","baseline":"alphabetic","color":"#000"},"encoding":{"text":{"field":"t"}}},
{"data":{"name":"labels"},"transform":[{"filter":"datum.r==='time'"}],"mark":{"type":"text","font":"Liberation Sans","fontSize":40,"align":"left","baseline":"alphabetic","color":"#000"},"encoding":{"text":{"field":"t"}}}
]
}
